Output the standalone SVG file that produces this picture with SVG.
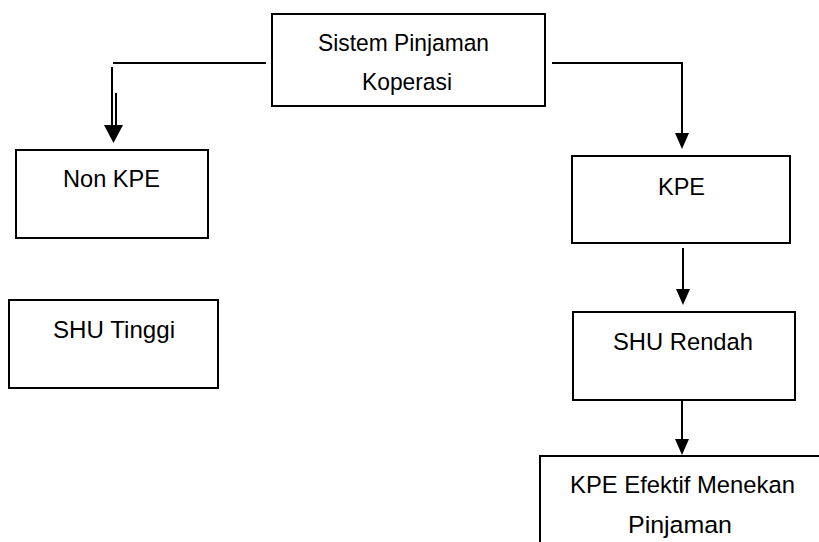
<svg xmlns="http://www.w3.org/2000/svg" width="819" height="542" viewBox="0 0 819 542">
  <defs>
    <style>
      .box { fill: #fff; stroke: #000; stroke-width: 2; }
      .lbl { font-family: "Liberation Sans", Arial, sans-serif; font-size: 24.5px; fill: #000; text-anchor: middle; }
      .edge { fill: none; stroke: #000; stroke-width: 2; }
    </style>
    <marker id="arrow" viewBox="0 0 16 16" refX="8" refY="8" markerWidth="16" markerHeight="16" markerUnits="userSpaceOnUse" orient="auto">
      <path d="M0,1 L16,8 L0,15 z" fill="#000"/>
    </marker>
  </defs>
  <rect width="819" height="542" fill="#fff"/>

  <g id="connectors">
    <path class="edge" d="M552,63 H682 V141" marker-end="url(#arrow)"/>
    <path class="edge" d="M683,248 V297" marker-end="url(#arrow)"/>
    <path class="edge" d="M682,400 V447" marker-end="url(#arrow)"/>
    <path class="edge" d="M266,63 H113"/>
    <path class="edge" d="M112,67 V128"/>
    <path class="edge" d="M116,93 V128"/>
    <polygon points="104,125 123,125 113.5,143" fill="#000"/>
  </g>

  <g id="sistem">
    <rect class="box" x="272" y="14" width="273" height="92"/>
    <text class="lbl" x="403.5" y="51" textLength="171" lengthAdjust="spacingAndGlyphs">Sistem Pinjaman</text>
    <text class="lbl" x="407" y="90" textLength="90" lengthAdjust="spacingAndGlyphs">Koperasi</text>
  </g>

  <g id="nonkpe">
    <rect class="box" x="16" y="150" width="192" height="88"/>
    <text class="lbl" x="111.5" y="187" textLength="97" lengthAdjust="spacingAndGlyphs">Non KPE</text>
  </g>

  <g id="shutinggi">
    <rect class="box" x="9" y="300" width="209" height="88"/>
    <text class="lbl" x="114" y="338" textLength="122" lengthAdjust="spacingAndGlyphs">SHU Tinggi</text>
  </g>

  <g id="kpe">
    <rect class="box" x="572" y="156" width="218" height="87"/>
    <text class="lbl" x="681.5" y="195" textLength="47" lengthAdjust="spacingAndGlyphs">KPE</text>
  </g>

  <g id="shurendah">
    <rect class="box" x="573" y="312" width="222" height="88"/>
    <text class="lbl" x="683" y="350" textLength="140" lengthAdjust="spacingAndGlyphs">SHU Rendah</text>
  </g>

  <g id="efektif">
    <rect class="box" x="540" y="456" width="285" height="100"/>
    <text class="lbl" x="682.5" y="493" textLength="225" lengthAdjust="spacingAndGlyphs">KPE Efektif Menekan</text>
    <text class="lbl" x="680" y="533" textLength="104" lengthAdjust="spacingAndGlyphs">Pinjaman</text>
  </g>
</svg>
